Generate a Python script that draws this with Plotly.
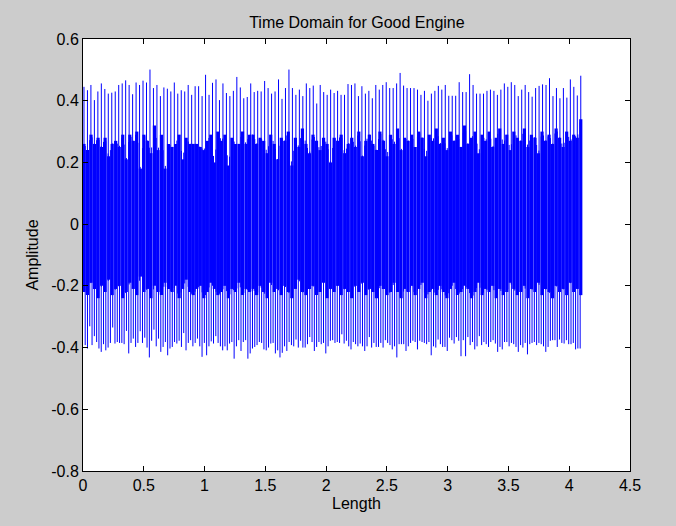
import numpy as np
import plotly.graph_objects as go

# ---------------- data ----------------
title_text = "Time Domain for Good Engine"
x_label = "Length"
y_label = "Amplitude"

signal_start = 0.008
signal_end = 4.095

# tall positive spikes (peak amplitude), left to right
upper_peaks = [
    0.445, 0.434, 0.451, 0.402, 0.430, 0.456, 0.438, 0.423, 0.426, 0.430,
    0.451, 0.456, 0.466, 0.451, 0.421, 0.459, 0.451, 0.465, 0.459, 0.501,
    0.441, 0.451, 0.415, 0.443, 0.439, 0.430, 0.459, 0.423, 0.434, 0.430,
    0.451, 0.419, 0.447, 0.447, 0.415, 0.484, 0.419, 0.458, 0.469, 0.402,
    0.456, 0.425, 0.415, 0.432, 0.477, 0.443, 0.408, 0.412,
    0.456, 0.428, 0.432, 0.430, 0.464, 0.441, 0.423, 0.430, 0.469, 0.406,
    0.441, 0.501, 0.441, 0.419, 0.436, 0.415, 0.456, 0.441, 0.449, 0.391,
    0.451, 0.428, 0.419, 0.436, 0.425, 0.432, 0.419, 0.419, 0.454, 0.451,
    0.456, 0.415, 0.447, 0.423, 0.432, 0.408, 0.451, 0.436, 0.451, 0.460,
    0.441, 0.441, 0.456, 0.490, 0.449,
    0.441, 0.441, 0.441, 0.436, 0.419, 0.432, 0.400, 0.423, 0.432, 0.448,
    0.436, 0.451, 0.416, 0.416, 0.416, 0.460, 0.428, 0.428, 0.486, 0.451,
    0.423, 0.423, 0.423, 0.432, 0.436, 0.432, 0.419, 0.436, 0.456, 0.445,
    0.460, 0.451, 0.415, 0.436, 0.451, 0.428, 0.413, 0.441, 0.448, 0.453,
    0.451, 0.473, 0.415, 0.441, 0.408, 0.441, 0.410, 0.469, 0.445, 0.417,
    0.481,
]

# tall negative spikes (trough amplitude), left to right
lower_peaks = [
    -0.392, -0.403, -0.331, -0.392, -0.363, -0.382, -0.403, -0.414, -0.389, -0.409,
    -0.400, -0.385, -0.335, -0.387, -0.382, -0.385, -0.385, -0.389, -0.346, -0.419,
    -0.385, -0.371, -0.398, -0.385, -0.347, -0.385, -0.368, -0.400, -0.432, -0.378,
    -0.342, -0.396, -0.371, -0.414, -0.398, -0.382, -0.425, -0.403, -0.398, -0.382,
    -0.387, -0.378, -0.398, -0.353, -0.409, -0.385, -0.376, -0.396, -0.385, -0.371,
    -0.396, -0.430, -0.385, -0.425, -0.396, -0.380, -0.387, -0.363, -0.385, -0.396,
    -0.409, -0.396, -0.409, -0.387, -0.382, -0.436, -0.396, -0.376, -0.411, -0.382,
    -0.376, -0.436, -0.419, -0.403, -0.398, -0.392, -0.382, -0.385, -0.406, -0.409,
    -0.400, -0.387, -0.385, -0.419, -0.409, -0.432, -0.417, -0.396, -0.411, -0.382,
    -0.392, -0.396, -0.374, -0.400, -0.378, -0.400, -0.400, -0.389, -0.366, -0.382,
    -0.411, -0.398, -0.382, -0.389, -0.385, -0.419, -0.396, -0.378, -0.376, -0.385,
    -0.382, -0.385, -0.357, -0.387, -0.378, -0.396, -0.406, -0.382, -0.389, -0.396,
    -0.387, -0.396, -0.411, -0.396, -0.366, -0.400, -0.385, -0.398, -0.398, -0.385,
    -0.400, -0.376, -0.385, -0.392, -0.406, -0.396, -0.432, -0.389, -0.389, -0.389,
    -0.411,
    -0.396, -0.385, -0.378, -0.382, -0.406, -0.378, -0.382, -0.385, -0.389, -0.382,
    -0.425, -0.396, -0.400, -0.374, -0.389, -0.398, -0.398, -0.411, -0.368, -0.376,
    -0.387, -0.366, -0.378, -0.428, -0.376, -0.428, -0.366, -0.392, -0.382, -0.406,
    -0.396, -0.363, -0.392, -0.382, -0.389, -0.398, -0.382, -0.376, -0.387, -0.414,
    -0.398, -0.406, -0.382, -0.382, -0.396, -0.385, -0.389, -0.398, -0.414, -0.392,
    -0.400, -0.385, -0.422, -0.389, -0.385, -0.382, -0.392, -0.385, -0.389, -0.396,
    -0.414, -0.398, -0.378, -0.376, -0.376, -0.398, -0.374, -0.385, -0.387, -0.376,
    -0.389, -0.389, -0.385, -0.406, -0.403, -0.403,
]

# dense oscillation band: local top / bottom per cycle
band_top = [
    0.26, 0.24, 0.29, 0.26, 0.28, 0.25, 0.28, 0.22, 0.26, 0.27,
    0.25, 0.29, 0.21, 0.29, 0.27, 0.30, 0.18, 0.29, 0.27, 0.23,
    0.32, 0.24, 0.29, 0.18, 0.26, 0.25, 0.26, 0.29, 0.21, 0.28,
    0.26, 0.26, 0.26, 0.25, 0.24, 0.27, 0.29, 0.20, 0.30, 0.27,
    0.29, 0.19, 0.28, 0.26, 0.26, 0.30, 0.26, 0.29,
    0.29, 0.26, 0.28, 0.27, 0.23, 0.29, 0.26, 0.21, 0.28, 0.27,
    0.30, 0.19, 0.28, 0.25, 0.31, 0.26, 0.23, 0.29, 0.27, 0.24,
    0.28, 0.26, 0.20, 0.28, 0.27, 0.29, 0.23, 0.26, 0.28, 0.25,
    0.30, 0.22, 0.27, 0.29, 0.26, 0.24, 0.30, 0.27, 0.22, 0.29,
    0.26, 0.31, 0.24, 0.28,
    0.27, 0.29, 0.25, 0.30, 0.28, 0.22, 0.29, 0.27, 0.31, 0.26,
    0.28, 0.24, 0.30, 0.27, 0.29, 0.25, 0.32, 0.26, 0.28, 0.30,
    0.23, 0.29, 0.27, 0.30, 0.25, 0.28, 0.31, 0.26, 0.29, 0.24,
    0.30, 0.28, 0.27, 0.31, 0.25, 0.29, 0.28, 0.23, 0.30, 0.27,
    0.29, 0.26, 0.31, 0.28, 0.25, 0.30, 0.27, 0.29, 0.28, 0.34,
]
band_bottom = [
    -0.22, -0.23, -0.19, -0.21, -0.24, -0.20, -0.22, -0.18, -0.23, -0.21,
    -0.20, -0.24, -0.22, -0.19, -0.21, -0.23, -0.17, -0.22, -0.21, -0.24,
    -0.20, -0.22, -0.23, -0.19, -0.21, -0.22, -0.20, -0.24, -0.21, -0.18,
    -0.22, -0.23, -0.21, -0.20, -0.24, -0.22, -0.19, -0.21, -0.23, -0.22,
    -0.20, -0.24, -0.21, -0.22, -0.19, -0.23, -0.21, -0.22,
    -0.21, -0.23, -0.20, -0.22, -0.24, -0.19, -0.22, -0.21, -0.23, -0.20,
    -0.22, -0.24, -0.21, -0.18, -0.22, -0.23, -0.21, -0.20, -0.23, -0.22,
    -0.19, -0.24, -0.21, -0.22, -0.20, -0.23, -0.21, -0.22, -0.24, -0.20,
    -0.22, -0.19, -0.23, -0.21, -0.22, -0.24, -0.20, -0.21, -0.23, -0.22,
    -0.19, -0.22, -0.24, -0.21,
    -0.22, -0.20, -0.23, -0.21, -0.19, -0.24, -0.22, -0.21, -0.23, -0.20,
    -0.22, -0.24, -0.21, -0.19, -0.23, -0.22, -0.20, -0.21, -0.24, -0.22,
    -0.19, -0.23, -0.21, -0.22, -0.20, -0.24, -0.21, -0.23, -0.22, -0.19,
    -0.21, -0.23, -0.22, -0.20, -0.24, -0.21, -0.22, -0.19, -0.23, -0.21,
    -0.22, -0.24, -0.20, -0.22, -0.21, -0.23, -0.19, -0.22, -0.21, -0.23,
]

x_tick_vals = [0, 0.5, 1, 1.5, 2, 2.5, 3, 3.5, 4, 4.5]
x_tick_text = ["0", "0.5", "1", "1.5", "2", "2.5", "3", "3.5", "4", "4.5"]
y_tick_vals = [0.6, 0.4, 0.2, 0, -0.2, -0.4, -0.6, -0.8]
y_tick_text = ["0.6", "0.4", "0.2", "0", "-0.2", "-0.4", "-0.6", "-0.8"]


# ---------------- build figure ----------------
def segments(xs, y0s, y1s):
    xx, yy = [], []
    for x, a, b in zip(xs, y0s, y1s):
        xx += [x, x, None]
        yy += [a, b, None]
    return xx, yy


x_up = np.linspace(signal_start, signal_end, len(upper_peaks))
x_band = np.linspace(signal_start, signal_end, len(band_top))
x_low = np.linspace(signal_start + 0.01, signal_end - 0.005, len(lower_peaks))

# every spike swings through the dense core: start it on the band's far edge
upper_base = np.interp(x_up, x_band, band_bottom)
lower_base = np.interp(x_low, x_band, band_top)

blue = "#0000ff"
fig = go.Figure()

bx, by = segments(x_band, band_bottom, band_top)
fig.add_trace(go.Scatter(x=bx, y=by, mode="lines",
                         line=dict(color=blue, width=3.2), hoverinfo="skip"))

ux, uy = segments(x_up, upper_base, upper_peaks)
fig.add_trace(go.Scatter(x=ux, y=uy, mode="lines",
                         line=dict(color=blue, width=1), hoverinfo="skip"))

lx, ly = segments(x_low, lower_base, lower_peaks)
fig.add_trace(go.Scatter(x=lx, y=ly, mode="lines",
                         line=dict(color=blue, width=1), hoverinfo="skip"))

font_family = "Liberation Sans, Arial, sans-serif"
axis_common = dict(
    showgrid=False, zeroline=False, showline=True, linecolor="black",
    linewidth=1, mirror="ticks", ticks="inside", ticklen=5, tickcolor="black",
    tickfont=dict(family=font_family, size=16, color="black"),
)

fig.update_layout(
    width=676, height=526,
    margin=dict(l=83, r=46, t=39, b=55),
    paper_bgcolor="#cccccc", plot_bgcolor="white",
    showlegend=False,
    font=dict(family=font_family, size=16, color="black"),
    title=dict(text=title_text, x=0.528, xanchor="center", y=0.958,
               yanchor="middle", font=dict(size=16, color="black")),
    xaxis=dict(range=[0, 4.5], tickvals=x_tick_vals, ticktext=x_tick_text,
               title=dict(text=x_label, standoff=4,
                          font=dict(size=16, color="black")),
               **axis_common),
    yaxis=dict(range=[-0.8, 0.6], tickvals=y_tick_vals, ticktext=y_tick_text,
               title=dict(text=y_label, standoff=8,
                          font=dict(size=16, color="black")),
               **axis_common),
)

fig.write_html(
    "out.html",
    config={"displayModeBar": False},
    post_script="document.body.style.margin='0';"
                "document.body.style.background='#cccccc';",
)
